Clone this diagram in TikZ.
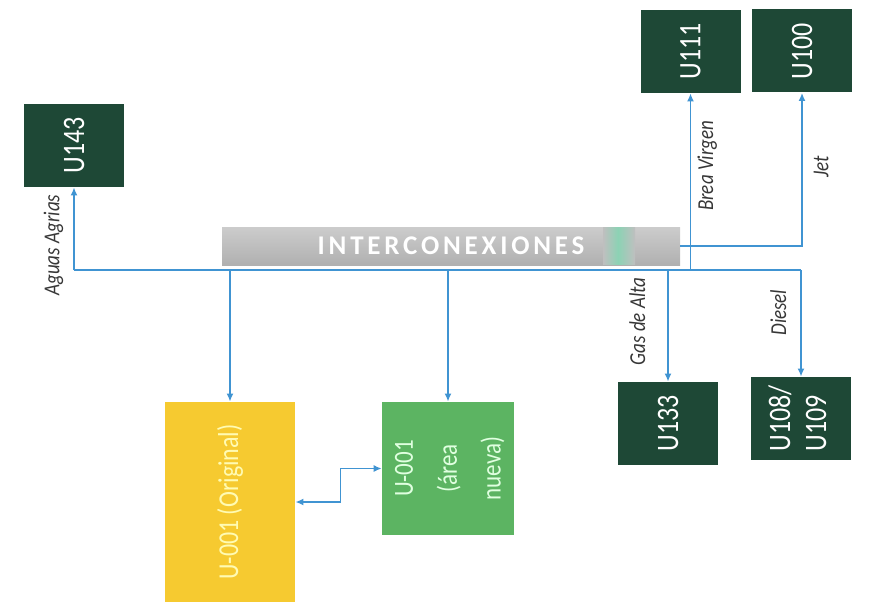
\documentclass[tikz,border=0pt]{standalone}
\usepackage{fontspec}
\setmainfont{Carlito}
\usepackage{tikz}
\usetikzlibrary{arrows.meta,positioning,shapes}

\definecolor{UnitGreen}{RGB}{30,72,54}
\definecolor{PipeBlue}{RGB}{64,148,210}
\definecolor{OldYellow}{RGB}{246,202,48}
\definecolor{NewGreen}{RGB}{92,180,98}
\definecolor{LabelGray}{RGB}{55,55,55}
\definecolor{StripeGreen}{RGB}{140,210,180}

% text turned to read from bottom to top
\newcommand{\vtext}[1]{\rotatebox{90}{\scalebox{1}[1.2]{#1}}}

\begin{document}
\begin{tikzpicture}[x=0.5pt,y=-0.5pt]
			\tikzstyle{Unit}	= [rectangle, fill=UnitGreen, text=white, minimum width=50pt, minimum height=41.5pt, inner sep=0pt, font=\fontsize{13}{15}\selectfont]
			\tikzstyle{Area}	= [rectangle, minimum width=65pt, inner sep=0pt]
			\tikzstyle{Bar}		= [rectangle, top color=gray!40, bottom color=gray!62, text=white, minimum width=229pt, minimum height=19pt, inner sep=0pt, font=\fontsize{13.5}{15}\selectfont\bfseries\addfontfeatures{LetterSpace=14}]
			\tikzstyle{Label}	= [text=LabelGray, font=\fontsize{9.5}{11}\selectfont\itshape]
			\tikzstyle{Pipe}	= [PipeBlue, line width=0.8pt]
			\tikzstyle{Flow}	= [Pipe, -{Latex[length=4pt,width=3.5pt]}]
			\tikzstyle{Both}	= [Pipe, {Latex[length=4pt,width=3.5pt]}-{Latex[length=4pt,width=3.5pt]}]

			\useasboundingbox (0,0) rectangle (870,604);

			% header bar
			\node (bar) at (451,246) [Bar] {INTERCONEXIONES};
			\shade [left color=gray!50, right color=StripeGreen] (603,227.5) rectangle (618,264.5);
			\shade [left color=StripeGreen, right color=gray!50] (618,227.5) rectangle (635,264.5);
			\coordinate (bus) at (0,270);

			% units
			\node (u143) at (74,145.5) [Unit] {\vtext{U143}};
			\node (u111) at (690.5,51.5) [Unit] {\vtext{U111}};
			\node (u100) at (802,51) [Unit] {\vtext{U100}};
			\node (u133) at (668,423.5) [Unit] {\vtext{U133}};
			\node (u108) at (801,418.5) [Unit] {\vtext{\begin{tabular}{@{}l@{}}U108/\\U109\end{tabular}}};
			\node (old) at (230,502) [Area][fill=OldYellow, minimum height=100pt, text=yellow!30, font=\fontsize{12}{14}\selectfont] {\vtext{U-001 (Original)}};
			\node (new) at (448,468.5) [Area][fill=NewGreen, minimum height=66.5pt, text=green!12, font=\fontsize{11.5}{18.3}\selectfont] {\vtext{\begin{tabular}{@{}c@{}}U-001\\(área\\nueva)\end{tabular}}};

			% lines
			\draw [Pipe] (u143 |- bus) to (u108 |- bus);
			\draw [Flow] (u143 |- bus) to node [Label, pos=0.3, anchor=east, inner sep=5pt] {\vtext{Aguas Agrias}} (u143);
			\draw [Flow] (old |- bus) to (old);
			\draw [Flow] (new |- bus) to (new);
			\draw [Flow] (u133 |- bus) to node [Label, pos=0.46, anchor=east, inner sep=11pt] {\vtext{Gas de Alta}} (u133);
			\draw [Flow] (u108 |- bus) to node [Label, pos=0.4, anchor=east, inner sep=7pt] {\vtext{Diesel}} (u108);
			\draw [Flow] (u111 |- bus) to node [Label, pos=0.59, anchor=west, inner sep=3pt] {\vtext{Brea Virgen}} (u111);
			\draw [Flow] (bar.east) -| node [Label, pos=0.76, anchor=west, inner sep=5.5pt] {\vtext{Jet}} (u100);
			\draw [Both] (old.east) -- ++(45,0) |- (new.west);
\end{tikzpicture}
\end{document}
